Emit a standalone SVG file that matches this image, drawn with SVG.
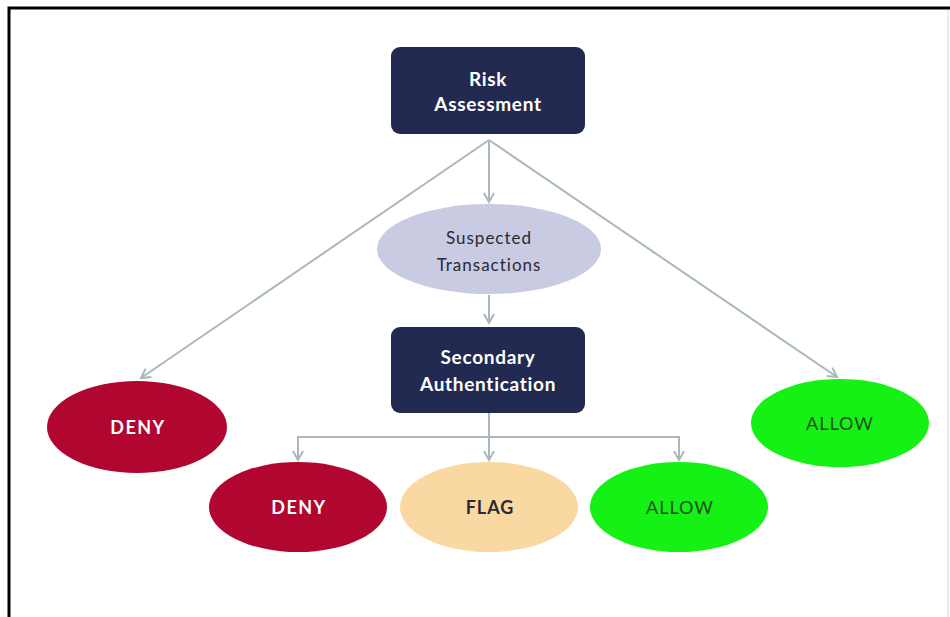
<svg xmlns="http://www.w3.org/2000/svg" width="950" height="617" viewBox="0 0 950 617">
<defs>
<style>
.box{fill:#232a52;}
.tw{fill:#ffffff;font-family:Lato,"Open Sans","Liberation Sans",sans-serif;font-weight:bold;font-size:19px;text-anchor:middle;letter-spacing:0.7px;}
.te{fill:#ffffff;font-family:Lato,"Open Sans","Liberation Sans",sans-serif;font-weight:bold;font-size:18px;text-anchor:middle;letter-spacing:1.5px;}
.td{fill:#2a2a33;font-family:Lato,"Open Sans","Liberation Sans",sans-serif;font-size:17px;text-anchor:middle;letter-spacing:1px;}
.tf{fill:#2a2a33;font-family:Lato,"Open Sans","Liberation Sans",sans-serif;font-size:18px;font-weight:bold;text-anchor:middle;letter-spacing:1px;}
.tg{fill:#1e4d1e;font-family:Lato,"Open Sans","Liberation Sans",sans-serif;font-size:18px;text-anchor:middle;letter-spacing:1px;}
.conn{fill:none;stroke:#aab8bd;stroke-width:2;}
.deny{fill:#b0062f;}
.allow{fill:#15f015;}
.flag{fill:#fad8a2;}
.susp{fill:#c9cbe3;}
</style>
<marker id="arr" viewBox="0 0 12 12" refX="10" refY="6" markerWidth="12" markerHeight="12" markerUnits="userSpaceOnUse" orient="auto">
<path d="M1,1 L10,6 L1,11" fill="none" stroke="#aab8bd" stroke-width="2"/>
</marker>
</defs>
<rect x="0" y="0" width="950" height="617" fill="#ffffff"/>
<path d="M9,617 V8 H950" fill="none" stroke="#000000" stroke-width="3"/>
<line x1="948" y1="10" x2="948" y2="617" stroke="#d8d8d8" stroke-width="1"/>
<g id="connectors">
<line class="conn" x1="489" y1="140" x2="141" y2="378" marker-end="url(#arr)"/>
<line class="conn" x1="489" y1="140" x2="489" y2="202" marker-end="url(#arr)"/>
<line class="conn" x1="489" y1="140" x2="837" y2="377" marker-end="url(#arr)"/>
<line class="conn" x1="489" y1="295" x2="489" y2="323" marker-end="url(#arr)"/>
<path class="conn" d="M489,413 V437"/>
<path class="conn" d="M298,437 H679"/>
<line class="conn" x1="298" y1="436" x2="298" y2="460" marker-end="url(#arr)"/>
<line class="conn" x1="489" y1="436" x2="489" y2="460" marker-end="url(#arr)"/>
<line class="conn" x1="679" y1="436" x2="679" y2="460" marker-end="url(#arr)"/>
</g>
<g id="risk">
<rect class="box" x="391" y="47" width="194" height="87" rx="9"/>
<text class="tw" x="488" y="86">Risk</text>
<text class="tw" x="488" y="111">Assessment</text>
</g>
<g id="suspected">
<ellipse class="susp" cx="489" cy="249" rx="112" ry="45"/>
<text class="td" x="489" y="244">Suspected</text>
<text class="td" x="489" y="271">Transactions</text>
</g>
<g id="secondary">
<rect class="box" x="391" y="327" width="194" height="86" rx="9"/>
<text class="tw" x="488" y="364">Secondary</text>
<text class="tw" x="488" y="391">Authentication</text>
</g>
<g id="deny1">
<ellipse class="deny" cx="137" cy="427" rx="90" ry="46"/>
<text class="te" x="138" y="434">DENY</text>
</g>
<g id="allow1">
<ellipse class="allow" cx="840" cy="423" rx="89" ry="44"/>
<text class="tg" x="840" y="430">ALLOW</text>
</g>
<g id="deny2">
<ellipse class="deny" cx="298" cy="507" rx="89" ry="45"/>
<text class="te" x="299" y="514">DENY</text>
</g>
<g id="flag">
<ellipse class="flag" cx="489" cy="507" rx="89" ry="45"/>
<text class="tf" x="490" y="514">FLAG</text>
</g>
<g id="allow2">
<ellipse class="allow" cx="679" cy="507" rx="89" ry="45"/>
<text class="tg" x="680" y="514">ALLOW</text>
</g>
</svg>
